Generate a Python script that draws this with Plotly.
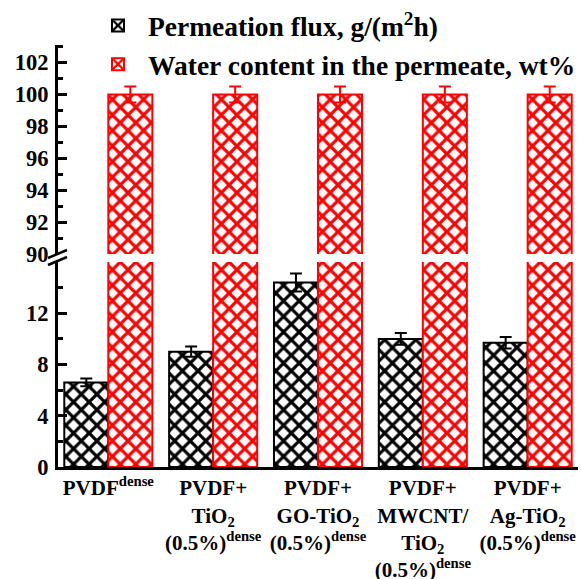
import plotly.graph_objects as go

categories = [
    "PVDF<sup>dense</sup>",
    "PVDF+<br>TiO<sub>2</sub><br>(0.5%)<sup>dense</sup>",
    "PVDF+<br>GO-TiO<sub>2</sub><br>(0.5%)<sup>dense</sup>",
    "PVDF+<br>MWCNT/<br>TiO<sub>2</sub><br>(0.5%)<sup>dense</sup>",
    "PVDF+<br>Ag-TiO<sub>2</sub><br>(0.5%)<sup>dense</sup>",
]
flux = [6.6, 9.0, 14.4, 10.0, 9.7]
flux_err = [0.3, 0.4, 0.7, 0.45, 0.45]
water = [100, 100, 100, 100, 100]
water_err = [0.5, 0.5, 0.5, 0.5, 0.5]

lower_ticks = [0, 4, 8, 12]
upper_ticks = [90, 92, 94, 96, 98, 100, 102]

FONT = "Liberation Serif, Times New Roman, serif"

def black_marker():
    return dict(color="white", line=dict(color="black", width=2),
                pattern=dict(shape="x", fgcolor="black", bgcolor="white", size=11,
                             solidity=0.5, fgopacity=1))

def red_marker():
    return dict(color="white", line=dict(color="red", width=2),
                pattern=dict(shape="x", fgcolor="red", bgcolor="white", size=11,
                             solidity=0.5, fgopacity=1))

fig = go.Figure()
for yax, show in (("y", True), ("y2", False)):
    fig.add_trace(go.Bar(x=categories, y=flux, name="<b>Permeation flux, g/(m<sup>2</sup>h)</b>",
                         marker=black_marker(), yaxis=yax, showlegend=show, legendgroup="f",
                         error_y=dict(type="data", array=flux_err, color="black", thickness=2, width=6)))
    fig.add_trace(go.Bar(x=categories, y=water, name="<b>Water content in the permeate, wt%</b>",
                         marker=red_marker(), yaxis=yax, showlegend=show, legendgroup="w",
                         error_y=dict(type="data", array=water_err, color="red", thickness=2, width=6)))

H_top, H_bot = 45, 112
ph = 579 - H_top - H_bot
def py(p):
    return (579 - H_bot - p) / ph
def px(p):
    return (p - 58) / 520

fig.update_layout(
    width=581, height=579,
    margin=dict(l=58, r=3, t=H_top, b=H_bot, autoexpand=False),
    paper_bgcolor="white", plot_bgcolor="white",
    font=dict(family=FONT, size=20, color="black"),
    barmode="group", bargap=0.16, bargroupgap=0,
    showlegend=True,
    legend=dict(x=px(88), y=1 + (H_top - 1) / ph, xanchor="left", yanchor="top",
                font=dict(family=FONT, size=27.5, color="black"),
                bgcolor="rgba(0,0,0,0)", itemwidth=50, tracegroupgap=0),
    xaxis=dict(range=[-0.48, 4.48], showline=True, linecolor="black", linewidth=3,
               ticks="", showgrid=False, zeroline=False, tickangle=0, automargin=False,
               tickvals=categories, ticktext=["<b>" + c + "</b>" for c in categories],
               tickfont=dict(family=FONT, size=21)),
    yaxis=dict(domain=[0, py(262)], range=[0, 16], tickvals=lower_ticks,
               ticktext=["<b>%d</b>" % v for v in lower_ticks], automargin=False,
               showline=True, linecolor="black", linewidth=3, ticks="inside",
               ticklen=9, tickwidth=2.5, tickcolor="black", ticklabelstandoff=2,
               minor=dict(dtick=2, ticks="inside", ticklen=5, tickwidth=2.5, tickcolor="black"),
               showgrid=False, zeroline=False,
               tickfont=dict(family=FONT, size=22.5)),
    yaxis2=dict(domain=[py(254), 1], range=[90, 103.1], tickvals=upper_ticks,
                ticktext=["<b>%d</b>" % v for v in upper_ticks], automargin=False,
                anchor="x", showline=True, linecolor="black", linewidth=3, ticks="inside",
                ticklen=9, tickwidth=2.5, tickcolor="black", ticklabelstandoff=2,
                minor=dict(dtick=1, ticks="inside", ticklen=5, tickwidth=2.5, tickcolor="black"),
                showgrid=False, zeroline=False,
                tickfont=dict(family=FONT, size=22.5)),
)

# axis break marks
for (x0, y0, x1, y1) in [(48, 258, 67, 250), (48, 265, 67, 257)]:
    fig.add_shape(type="line", xref="paper", yref="paper",
                  x0=px(x0), y0=py(y0), x1=px(x1), y1=py(y1),
                  line=dict(color="black", width=2.5))

fig.write_html("out.html")
